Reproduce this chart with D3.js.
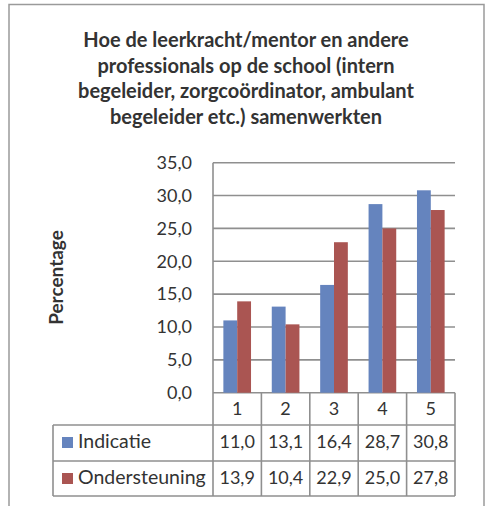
<!DOCTYPE html>
<html>
<head>
<meta charset="utf-8">
<script src="https://cdn.jsdelivr.net/npm/d3@7"></script>
<style>
  html, body { margin: 0; padding: 0; background: #fff; }
  svg { display: block; }
  text { font-family: Lato, "Open Sans", sans-serif; fill: #333; }
</style>
</head>
<body>
<svg id="chart" width="487" height="506"></svg>
<script>
const titleLines = [
  "Hoe de leerkracht/mentor en andere",
  "professionals op de school (intern",
  "begeleider, zorgcoördinator, ambulant",
  "begeleider etc.) samenwerkten"
];
const yAxisTitle = "Percentage";
const categories = ["1", "2", "3", "4", "5"];
const seriesNames = ["Indicatie", "Ondersteuning"];
const indicatie = [11.0, 13.1, 16.4, 28.7, 30.8];
const ondersteuning = [13.9, 10.4, 22.9, 25.0, 27.8];
const yTicks = [0, 5, 10, 15, 20, 25, 30, 35];
const colors = ["#6584BE", "#AA5552"];

const seriesValues = [indicatie, ondersteuning];
const fmt = v => d3.format(".1f")(v).replace(".", ",");

const svg = d3.select("#chart");
const gridColor = "#8f8f8f";

// outer frame (bottom cut off)
svg.append("path")
  .attr("d", "M9,520 L9,4.5 L484,4.5 L484,520")
  .attr("fill", "none").attr("stroke", "#9a9a9a").attr("stroke-width", 1.5);

// title
const title = svg.append("text").attr("text-anchor", "middle")
  .style("font-weight", "bold").style("font-size", "20px");
titleLines.forEach((l, i) => {
  title.append("tspan").attr("x", 246).attr("y", 47 + i * 25.7).text(l);
});

const plot = { left: 213, right: 455, top: 162.7, bottom: 392.7 };
const y = d3.scaleLinear().domain([0, 35]).range([plot.bottom, plot.top]);
const x0 = d3.scaleBand().domain(categories).range([plot.left, plot.right]).padding(0);
const x1 = d3.scaleBand().domain(seriesNames).range([0, x0.bandwidth()])
  .paddingInner(0).paddingOuter(0.75);

// gridlines
svg.append("g").selectAll("line").data(yTicks).join("line")
  .attr("x1", plot.left).attr("x2", plot.right)
  .attr("y1", d => y(d)).attr("y2", d => y(d))
  .attr("stroke", gridColor).attr("stroke-width", 1.6);

// y axis using d3 axis for labels
const yAxis = d3.axisLeft(y).tickValues(yTicks).tickFormat(fmt).tickSize(0).tickPadding(0);
const ya = svg.append("g").attr("transform", `translate(192,0)`).call(yAxis);
ya.select(".domain").remove();
ya.selectAll("text").style("font-size", "18px").attr("fill", "#333")
  .style("font-family", "Lato, sans-serif");

// y-axis title
svg.append("text")
  .attr("transform", `translate(55,277.5) rotate(-90)`)
  .attr("text-anchor", "middle").attr("dominant-baseline", "central")
  .style("font-weight", "bold").style("font-size", "19px").text(yAxisTitle);

// bars
const groups = svg.append("g").selectAll("g").data(categories).join("g")
  .attr("transform", d => `translate(${x0(d)},0)`);
groups.selectAll("rect")
  .data((c, ci) => seriesNames.map((s, si) => ({ s, si, v: seriesValues[si][ci] })))
  .join("rect")
  .attr("x", d => x1(d.s)).attr("width", x1.bandwidth())
  .attr("y", d => y(d.v)).attr("height", d => y(0) - y(d.v))
  .attr("fill", d => colors[d.si]);

// data table
const rowTops = [plot.bottom, 425, 461, 496];
const tableLeft = 53;
const tg = svg.append("g").attr("stroke", gridColor).attr("stroke-width", 1.6);
rowTops.slice(1).forEach(yy => {
  tg.append("line").attr("x1", tableLeft).attr("x2", plot.right).attr("y1", yy).attr("y2", yy);
});
const edges = categories.map(c => x0(c)).concat([plot.right]);
edges.forEach((ex, i) => {
  tg.append("line").attr("x1", ex).attr("x2", ex)
    .attr("y1", i === 0 ? plot.top : plot.bottom).attr("y2", rowTops[3]);
});
tg.append("line").attr("x1", tableLeft).attr("x2", tableLeft).attr("y1", rowTops[1]).attr("y2", rowTops[3]);

// category labels
svg.append("g").selectAll("text").data(categories).join("text")
  .attr("x", d => x0(d) + x0.bandwidth() / 2).attr("y", 415)
  .attr("text-anchor", "middle").style("font-size", "18px").text(d => d);

// rows
const rowBase = [448, 484];
seriesNames.forEach((s, si) => {
  const yy = rowBase[si];
  svg.append("rect").attr("x", 62).attr("y", yy - 11).attr("width", 11).attr("height", 11)
    .attr("fill", colors[si]);
  svg.append("text").attr("x", 78).attr("y", yy).style("font-size", "19.5px").text(s);
  svg.append("g").selectAll("text").data(seriesValues[si]).join("text")
    .attr("x", (d, i) => x0(categories[i]) + x0.bandwidth() / 2).attr("y", yy)
    .attr("text-anchor", "middle").style("font-size", "18px").text(d => fmt(d));
});
</script>
</body>
</html>
